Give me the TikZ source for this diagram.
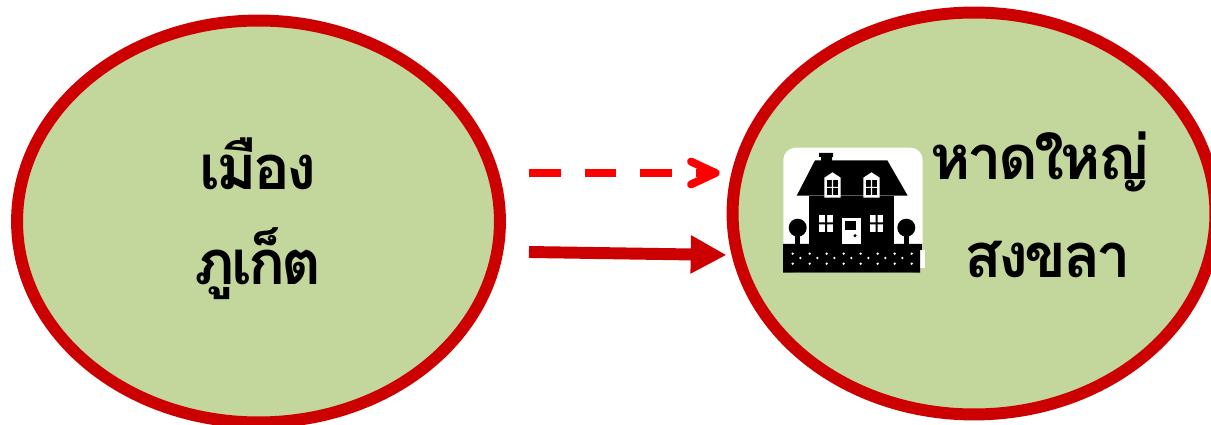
\documentclass[tikz,border=0pt]{standalone}
\usepackage{fontspec}
\usepackage{tikz}
\usetikzlibrary{arrows.meta,shapes.geometric}
\newfontfamily\thaifont[Script=Thai,LetterSpace=-6]{Loma}
\definecolor{placegreen}{HTML}{C3D69B}
\definecolor{placered}{HTML}{CC0000}
\definecolor{dashred}{HTML}{FF0000}
\tikzset{
 place/.style={ellipse,draw=placered,fill=placegreen,line width=6.8pt,outer sep=0pt,
  minimum width=9.66cm,minimum height=8.04cm},
 placetext/.style={font=\thaifont\bfseries\fontsize{35}{41}\selectfont,text=black,inner sep=0pt,anchor=base},
 dasharrow/.style={draw=dashred,line width=4.5pt,dash pattern=on 18.1pt off 13.6pt,
  -{Straight Barb[length=14pt,width=13pt,line width=4.5pt,round]}},
 fullarrow/.style={draw=placered,line width=6.8pt,
  -{Triangle[length=20.4pt,width=20.4pt]}}
}
\begin{document}
\begin{tikzpicture}[x=0.02cm,y=-0.02cm]
     \useasboundingbox (0,0) rectangle (1211,425);
     \clip (0,0) rectangle (1211,425);
     \node[place] (phuket) at (258.5,221.5) {};
     \node[place] (hatyai) at (974,213.5) {};
     \node[placetext] (phuketa) at (258,190) {เมือง};
     \node[placetext] (phuketb) at (258,285) {ภูเก็ต};
     \node[placetext] (hatyaia) at (1040,180) {หาดใหญ่};
     \node[placetext] (hatyaib) at (1048,278) {สงขลา};
     \draw[dasharrow] ([shift={(29,-48.5)}]phuket.east) -- ([shift={(-13,-40.5)}]hatyai.west);
     \draw[fullarrow] ([shift={(29,30.5)}]phuket.east) -- ([shift={(-6,41.5)}]hatyai.west);
     % house
     \fill[white,rounded corners=7pt] (783.3,147.7) rectangle (922.7,273);
     \fill[white] (920,250) rectangle (925,268);
     \fill[black] (783,244) rectangle (922,250) (783,250) rectangle (920,272.7);
     \fill[black] (819,153) rectangle (833,157) (821,157) rectangle (832,161);
     \fill[black] (815,160.3) -- (887.3,160.3) -- (907.7,195.7) -- (796.7,195.7) -- cycle;
     \fill[black] (809.3,195.7) rectangle (893.7,244);
     \foreach \wx in {832.5,871.5}{
      \fill[white] (\wx-8.2,177.7) -- (\wx,172.3) -- (\wx+8.2,177.7) -- (\wx+8.2,197.7) -- (\wx-8.2,197.7) -- cycle;
      \fill[black] (\wx-5.7,179.7) rectangle (\wx+5.7,195);
      \fill[white] (\wx-0.6,179.7) rectangle (\wx+0.6,195) (\wx-5.7,186.8) rectangle (\wx+5.7,188);
     }
     \foreach \wx in {826,876.5}{
      \fill[white] (\wx-6.8,215) rectangle (\wx+6.8,232);
      \fill[black] (\wx-1,215) rectangle (\wx+1,232) (\wx-6.8,222.5) rectangle (\wx+6.8,224.5);
     }
     \fill[white] (842,218) rectangle (861,244);
     \fill[black] (845,221) rectangle (856.3,230);
     \fill[black] (855,235.7) circle (1.7);
     \foreach \tx in {797.7,906.3}{
      \fill[black] (\tx,227.7) circle (9);
      \fill[black] (\tx-2.4,230) rectangle (\tx+2.4,244);
     }
     \foreach \k in {0,...,7}{
      \fill[white] (792.7+17*\k,253.7) circle (1.3);
      \fill[white] (792.7+17*\k,263.7) circle (1.3);
     }
     \foreach \k in {0,...,6}
      \fill[white] (800.3+17*\k,258) circle (1.3);
\end{tikzpicture}
\end{document}
